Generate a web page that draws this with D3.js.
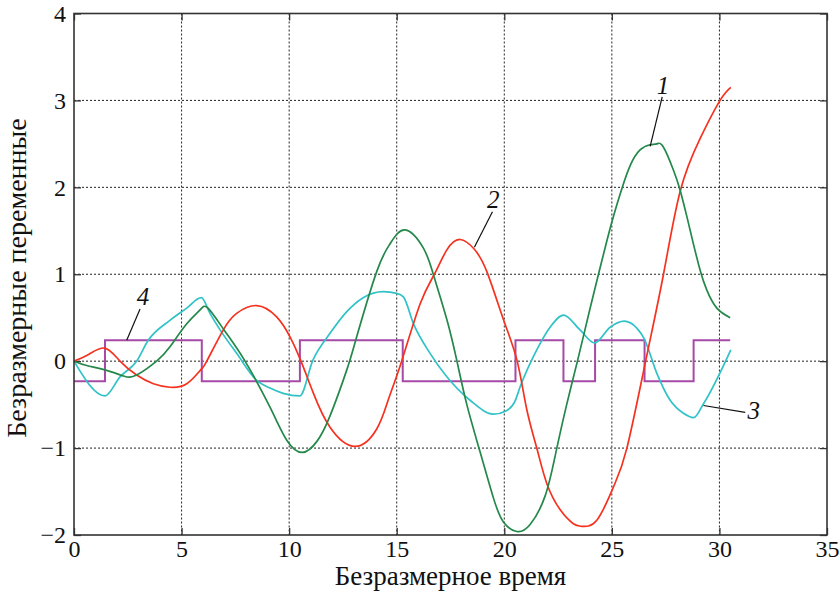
<!DOCTYPE html>
<html>
<head>
<meta charset="utf-8">
<script src="https://cdn.jsdelivr.net/npm/d3@7"></script>
<style>
  body { margin: 0; background: #fff; }
  svg text { font-family: "Liberation Serif", "DejaVu Serif", serif; fill: #111; }
</style>
</head>
<body>
<svg id="chart" width="840" height="592"></svg>
<script>
// curve 1 (green)
let t1 = [0, 0.59, 1.44, 2.3, 2.91, 3.84, 4.46, 5.24, 5.86, 6.23, 7.0, 7.95, 9.11, 9.89, 10.62, 11.3, 11.9, 12.68, 13.14, 14.07, 14.69, 15.39, 16.24, 16.7, 17.33, 17.8, 18.26, 18.87, 19.49, 19.96, 20.58, 21.2, 21.9, 22.4, 22.9, 23.4, 24.0, 24.5, 25.0, 25.46, 25.85, 26.31, 26.78, 27.09, 27.38, 27.86, 28.17, 28.49, 28.79, 29.1, 29.41, 29.88, 30.5];
let y1 = [0, -0.05, -0.10, -0.17, -0.16, 0, 0.165, 0.43, 0.59, 0.61, 0.35, 0, -0.53, -0.91, -1.05, -0.92, -0.63, -0.10, 0.28, 1.03, 1.35, 1.51, 1.30, 1.0, 0.48, 0, -0.50, -1.04, -1.57, -1.85, -1.96, -1.88, -1.55, -1.05, -0.5, 0, 0.62, 1.12, 1.6, 1.98, 2.25, 2.43, 2.49, 2.50, 2.47, 2.20, 1.97, 1.66, 1.35, 1.05, 0.82, 0.61, 0.50];

// curve 2 (red)
let t2 = [0, 0.7, 1.44, 2.14, 2.91, 3.69, 4.46, 5.24, 5.89, 6.17, 6.94, 7.56, 8.49, 9.42, 10.04, 10.55, 11.13, 11.9, 13.06, 14.07, 14.6, 15.23, 16.09, 16.75, 17.33, 17.95, 18.6, 19.19, 19.96, 20.6, 21.04, 21.51, 21.98, 22.6, 23.21, 23.6, 24.3, 25.07, 25.7, 26.57, 27.4, 28.17, 29.1, 30.03, 30.53];
let y2 = [0, 0.08, 0.15, 0, -0.16, -0.26, -0.30, -0.26, -0.10, 0, 0.36, 0.55, 0.64, 0.51, 0.28, 0, -0.37, -0.76, -0.98, -0.78, -0.45, 0, 0.66, 1.0, 1.28, 1.40, 1.29, 1.03, 0.48, 0, -0.55, -1.0, -1.41, -1.71, -1.87, -1.90, -1.83, -1.45, -1.0, 0, 1.0, 1.95, 2.56, 3.0, 3.15];

// curve 3 (cyan)
let t3 = [0, 1.44, 2.14, 2.91, 3.45, 4.46, 5.24, 5.92, 6.32, 6.79, 7.56, 8.49, 9.11, 9.72, 10.5, 11.1, 11.9, 12.68, 13.44, 14.38, 15.0, 15.31, 15.78, 16.55, 17.33, 18.41, 19.5, 20.1, 20.5, 20.73, 21.51, 22.13, 22.75, 23.52, 24.2, 24.92, 25.57, 26.16, 26.5, 27.09, 27.71, 28.33, 28.8, 29.26, 30.53];
let y3 = [0, -0.40, -0.18, 0.0, 0.24, 0.47, 0.61, 0.73, 0.55, 0.36, 0.09, -0.22, -0.31, -0.37, -0.40, 0.01, 0.32, 0.57, 0.73, 0.80, 0.78, 0.74, 0.43, 0.09, -0.18, -0.45, -0.61, -0.57, -0.46, -0.30, 0.13, 0.39, 0.53, 0.36, 0.21, 0.39, 0.46, 0.38, 0.26, -0.14, -0.45, -0.60, -0.65, -0.49, 0.13];

// curve 4 (magenta), switching times and levels
let t4 = [0, 1.44, 5.94, 10.5, 15.28, 20.52, 22.75, 24.22, 26.52, 28.8, 30.5];
let y4 = [-0.23, 0.24, -0.23, 0.24, -0.23, 0.24, -0.23, 0.24, -0.23, 0.24, 0.24];

let x_ticks = [0, 5, 10, 15, 20, 25, 30, 35];
let y_ticks = [-2, -1, 0, 1, 2, 3, 4];

// curve labels: text position, leader line start and end
let label_names = ["1", "2", "3", "4"];
let label_pos = [[27.38, 3.17], [19.49, 1.86], [31.59, -0.56], [3.21, 0.75]];
let leader_from = [[27.34, 3.04], [19.45, 1.72], [31.20, -0.59], [3.07, 0.60]];
let leader_to = [[26.78, 2.47], [18.61, 1.31], [29.26, -0.51], [2.45, 0.24]];

let serif = "'Liberation Serif', 'DejaVu Serif', serif";

let margin = {left: 74, top: 13.5, right: 13, bottom: 57};
let width = 840 - margin.left - margin.right;
let height = 592 - margin.top - margin.bottom;

let svg = d3.select("#chart");
let frame = svg.append("g")
  .attr("transform", "translate(" + margin.left + "," + margin.top + ")");

let x_scale = d3.scaleLinear().domain([0, 35]).range([0, width]);
let y_scale = d3.scaleLinear().domain([-2, 4]).range([height, 0]);

// dotted grid
let grid = frame.append("g").attr("class", "grid");
grid.selectAll("line.gx")
  .data(x_ticks.slice(1, -1))
  .enter().append("line")
    .attr("class", "gx")
    .attr("x1", d => x_scale(d)).attr("x2", d => x_scale(d))
    .attr("y1", 0).attr("y2", height);
grid.selectAll("line.gy")
  .data(y_ticks.slice(1, -1))
  .enter().append("line")
    .attr("class", "gy")
    .attr("x1", 0).attr("x2", width)
    .attr("y1", d => y_scale(d)).attr("y2", d => y_scale(d));
grid.selectAll("line")
  .attr("stroke", "#222")
  .attr("stroke-width", 1)
  .attr("stroke-dasharray", "2,2");

let fmt = d => d < 0 ? "\u2212" + Math.abs(d) : String(d);

// axes with inward ticks
let tick_len = 7;
frame.append("g")
  .attr("transform", "translate(0," + height + ")")
  .call(d3.axisBottom(x_scale).tickValues(x_ticks).tickFormat(fmt)
    .tickSizeInner(-tick_len).tickSizeOuter(0).tickPadding(5));
frame.append("g")
  .call(d3.axisLeft(y_scale).tickValues(y_ticks).tickFormat(fmt)
    .tickSizeInner(-tick_len).tickSizeOuter(0).tickPadding(8));
frame.append("g")
  .call(d3.axisTop(x_scale).tickValues(x_ticks).tickFormat("")
    .tickSizeInner(-tick_len).tickSizeOuter(0));
frame.append("g")
  .attr("transform", "translate(" + width + ",0)")
  .call(d3.axisRight(y_scale).tickValues(y_ticks).tickFormat("")
    .tickSizeInner(-tick_len).tickSizeOuter(0));

frame.selectAll(".domain").remove();
frame.selectAll(".tick line").attr("stroke", "#333").attr("stroke-width", 1.3);
frame.selectAll(".tick text")
  .attr("font-family", serif)
  .style("font-family", serif)
  .style("font-size", "24px")
  .attr("fill", "#111");

// curves
let smooth_line = d3.line()
  .x(d => x_scale(d[0]))
  .y(d => y_scale(d[1]))
  .curve(d3.curveNatural);

let kinked_line = d3.line()
  .x(d => x_scale(d[0]))
  .y(d => y_scale(d[1]))
  .curve(d3.curveMonotoneX);

let step_line = d3.line()
  .x(d => x_scale(d[0]))
  .y(d => y_scale(d[1]))
  .curve(d3.curveStepAfter);

let plot = frame.append("g").attr("class", "curves");

plot.append("path")
  .datum(d3.zip(t4, y4))
  .attr("d", step_line)
  .attr("fill", "none")
  .attr("stroke", "#a64aa8")
  .attr("stroke-width", 2);

let series = [
  {t: t3, y: y3, color: "#30c2c6", gen: kinked_line},
  {t: t2, y: y2, color: "#f5321f", gen: smooth_line},
  {t: t1, y: y1, color: "#23884a", gen: smooth_line}
];
series.forEach(s => {
  plot.append("path")
    .datum(d3.zip(s.t, s.y))
    .attr("d", s.gen)
    .attr("fill", "none")
    .attr("stroke", s.color)
    .attr("stroke-width", 1.7);
});

// frame box
frame.append("rect")
  .attr("x", 0).attr("y", 0)
  .attr("width", width).attr("height", height)
  .attr("fill", "none")
  .attr("stroke", "#333")
  .attr("stroke-width", 1.6);

// curve labels
let labels = frame.append("g").attr("class", "labels");
labels.selectAll("line")
  .data(label_names)
  .enter().append("line")
    .attr("x1", (d, i) => x_scale(leader_from[i][0]))
    .attr("y1", (d, i) => y_scale(leader_from[i][1]))
    .attr("x2", (d, i) => x_scale(leader_to[i][0]))
    .attr("y2", (d, i) => y_scale(leader_to[i][1]))
    .attr("stroke", "#111")
    .attr("stroke-width", 1.2);
labels.selectAll("text")
  .data(label_names)
  .enter().append("text")
    .attr("x", (d, i) => x_scale(label_pos[i][0]))
    .attr("y", (d, i) => y_scale(label_pos[i][1]))
    .attr("dy", "0.35em")
    .attr("text-anchor", "middle")
    .style("font-family", serif)
    .style("font-size", "25px")
    .style("font-style", "italic")
    .text(d => d);

// axis titles
svg.append("text")
  .attr("x", margin.left + width / 2)
  .attr("y", 585)
  .attr("text-anchor", "middle")
  .style("font-family", serif)
  .style("font-size", "27px")
  .text("Безразмерное время");

svg.append("text")
  .attr("transform", "translate(26,278) rotate(-90)")
  .attr("text-anchor", "middle")
  .style("font-family", serif)
  .style("font-size", "28px")
  .text("Безразмерные переменные");
</script>
</body>
</html>
